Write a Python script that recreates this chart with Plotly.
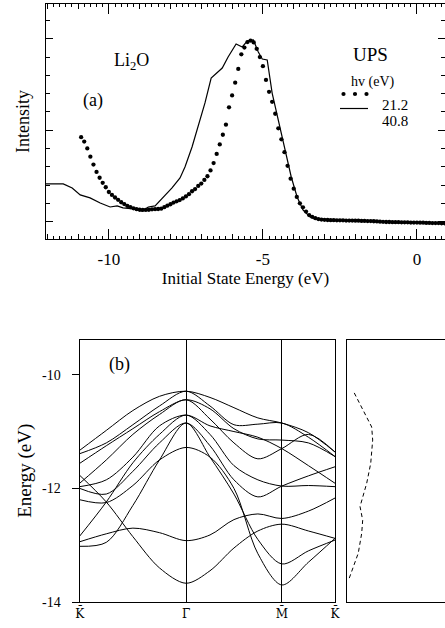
import plotly.graph_objects as go

# ---------------- (a) UPS spectra ----------------
ups_e_212 = [-10.9, -10.8, -10.7, -10.6, -10.5, -10.4, -10.3, -10.2, -10.1, -10.0,
             -9.9, -9.8, -9.7, -9.6, -9.5, -9.4, -9.3, -9.2, -9.1, -9.0,
             -8.9, -8.8, -8.7, -8.6, -8.5, -8.4, -8.3, -8.2, -8.1, -8.0,
             -7.9, -7.8, -7.7, -7.6, -7.5, -7.4, -7.3, -7.2, -7.1, -7.0,
             -6.9, -6.8, -6.7, -6.6, -6.5, -6.4, -6.3, -6.2, -6.1, -6.0,
             -5.9, -5.8, -5.7, -5.6, -5.5, -5.4, -5.3, -5.2, -5.1, -5.0,
             -4.9, -4.8, -4.7, -4.6, -4.5, -4.4, -4.3, -4.2, -4.1, -4.0,
             -3.9, -3.8, -3.7, -3.6, -3.5, -3.4, -3.3, -3.2, -3.1, -3.0,
             -2.9, -2.8, -2.7, -2.6, -2.5, -2.4, -2.3, -2.2, -2.1, -2.0,
             -1.9, -1.8, -1.7, -1.6, -1.5, -1.4, -1.3, -1.2, -1.1, -1.0,
             -0.9, -0.8, -0.7, -0.6, -0.5, -0.4, -0.3, -0.2, -0.1, 0.0,
             0.1, 0.2, 0.3, 0.4, 0.5, 0.6, 0.7, 0.8, 0.9]
ups_i_212 = [4.62, 4.38, 4.00, 3.55, 3.12, 2.72, 2.40, 2.12, 1.88, 1.62,
             1.46, 1.32, 1.19, 1.06, 0.96, 0.86, 0.79, 0.73, 0.68, 0.65,
             0.64, 0.64, 0.65, 0.67, 0.68, 0.69, 0.71, 0.79, 0.87, 0.95,
             1.04, 1.11, 1.18, 1.27, 1.38, 1.50, 1.66, 1.78, 1.95, 2.08,
             2.28, 2.48, 2.80, 3.20, 3.70, 4.22, 4.75, 5.30, 6.25, 6.90,
             7.60, 8.35, 9.15, 9.52, 9.82, 9.90, 9.80, 9.45, 9.00, 8.50,
             7.75, 7.10, 6.55, 5.90, 5.10, 4.50, 3.80, 3.05, 2.35, 1.80,
             1.35, 1.00, 0.78, 0.55, 0.36, 0.26, 0.19, 0.14, 0.11, 0.10,
             0.09, 0.08, 0.08, 0.07, 0.07, 0.07, 0.06, 0.06, 0.06, 0.05,
             0.05, 0.04, 0.04, 0.03, 0.03, 0.02, 0.01, 0.00, -0.01, -0.02,
             -0.02, -0.03, -0.03, -0.03, -0.04, -0.04, -0.04, -0.05, -0.05, -0.05,
             -0.06, -0.06, -0.07, -0.07, -0.08, -0.08, -0.08, -0.09, -0.09]

ups_e_408 = [-12.04, -11.48, -11.19, -10.93, -10.61, -10.28, -9.96, -9.73, -9.54, -9.21,
             -8.92, -8.72, -8.50, -8.24, -7.95, -7.69, -7.53, -7.30, -7.10, -6.88,
             -6.68, -6.49, -6.32, -6.13, -5.87, -5.67, -5.51, -5.31, -5.15, -5.02,
             -4.86, -4.70, -4.50, -4.28, -4.08, -3.89, -3.70, -3.47, -3.14, -2.17,
             -1.09, 0.0, 0.92]
ups_i_408 = [2.06, 2.06, 1.84, 1.46, 1.30, 1.02, 0.80, 0.86, 0.75, 0.69,
             0.58, 0.80, 0.86, 1.30, 1.84, 2.39, 2.99, 4.08, 5.17, 6.49,
             7.85, 8.13, 8.40, 9.00, 9.71, 9.55, 9.87, 9.93, 9.27, 8.89,
             8.84, 7.03, 5.56, 3.92, 2.44, 1.35, 0.64, 0.26, 0.09, 0.04,
             -0.02, -0.04, -0.07]

ups_xtick_vals = [-10, -5, 0]
ups_xtick_text = ["-10", "-5", "0"]
legend_labels = ["21.2", "40.8"]
legend_title = "hv (eV)"

# ---------------- (b) band structure ----------------
k_points = [0.0, 0.25, 0.5, 0.75, 1.0, 1.225, 1.45, 1.675, 1.9, 2.15, 2.4]
k_sym_pos = [0.0, 1.0, 1.9, 2.4]
k_sym_labels = ["K\u0304", "\u0393\u0304", "M\u0304", "K\u0304"]

band_01 = [-11.33, -10.98, -10.63, -10.38, -10.29, -10.40, -10.58, -10.76, -10.85, -11.02, -11.36]
band_02 = [-11.39, -11.20, -10.88, -10.55, -10.29, -10.55, -10.88, -10.87, -10.85, -11.10, -11.44]
band_03 = [-11.56, -11.25, -10.95, -10.65, -10.44, -10.60, -10.95, -11.13, -11.15, -11.20, -11.44]
band_04 = [-11.91, -11.50, -11.05, -10.70, -10.44, -10.78, -11.20, -11.48, -11.30, -11.05, -11.36]
band_05 = [-11.97, -11.85, -11.45, -10.90, -10.71, -10.90, -11.00, -11.10, -11.30, -11.60, -11.91]
band_06 = [-12.84, -12.24, -11.55, -11.05, -10.71, -11.05, -11.60, -11.85, -11.96, -11.95, -11.97]
band_07 = [-12.00, -12.10, -11.70, -11.20, -10.85, -11.25, -11.85, -12.15, -11.96, -11.78, -11.62]
band_08 = [-13.02, -12.95, -12.30, -11.50, -10.85, -11.45, -12.10, -12.90, -13.33, -13.10, -12.91]
band_09 = [-12.20, -12.25, -11.95, -11.50, -11.28, -11.45, -12.00, -13.15, -13.70, -13.30, -12.88]
band_10 = [-12.94, -12.80, -12.70, -12.78, -12.92, -12.82, -12.55, -12.45, -12.53, -12.40, -12.17]
band_11 = [-11.77, -12.24, -12.85, -13.40, -13.67, -13.45, -13.05, -12.75, -12.63, -12.75, -12.88]
bands = [band_01, band_02, band_03, band_04, band_05, band_06,
         band_07, band_08, band_09, band_10, band_11]

band_ytick_vals = [-10, -12, -14]
band_ytick_text = ["-10", "-12", "-14"]

# density of states (right panel)
dos_e = [-10.32, -10.92, -11.15, -11.56, -11.91, -12.32, -12.56, -12.79, -13.14, -13.49, -13.58]
dos_v = [0.074, 0.252, 0.262, 0.242, 0.201, 0.133, 0.160, 0.150, 0.115, 0.048, 0.023]

FONT = "Liberation Serif, Times New Roman, serif"
W, H = 445, 628


def px(x):
    return x / W


def py(y):
    return 1 - y / H


fig = go.Figure()

fig.add_trace(go.Scatter(x=ups_e_212, y=ups_i_212, mode="markers", name=legend_labels[0],
                         marker=dict(color="black", size=4.3), xaxis="x", yaxis="y",
                         showlegend=False))
fig.add_trace(go.Scatter(x=ups_e_408, y=ups_i_408, mode="lines", name=legend_labels[1],
                         line=dict(color="black", width=1.2), xaxis="x", yaxis="y",
                         showlegend=False))
fig.add_trace(go.Scatter(x=[None], y=[None], xaxis="x3", yaxis="y", showlegend=False,
                         hoverinfo="skip"))

for b in bands:
    fig.add_trace(go.Scatter(x=k_points, y=b, mode="lines", showlegend=False,
                             line=dict(color="black", width=1, shape="spline", smoothing=0.9),
                             xaxis="x2", yaxis="y2"))

fig.add_trace(go.Scatter(x=dos_v, y=dos_e, mode="lines", showlegend=False,
                         line=dict(color="black", width=1, dash="4px,3px"),
                         xaxis="x4", yaxis="y3"))

top_dom_x = [px(46), 1.0]
top_dom_y = [py(239), py(4)]
bs_dom_x = [px(79.7), px(335)]
bs_dom_y = [py(602), py(339.5)]
dos_dom_x = [px(347), 1.0]

axis_common = dict(showline=True, linecolor="black", linewidth=1.3, showgrid=False,
                   zeroline=False, tickcolor="black", mirror="ticks")

# hand-made legend keys (layout decoration, paper coordinates)
legend_shapes = []
for cx in (343.5, 355.0, 366.5):
    legend_shapes.append(dict(type="circle", xref="paper", yref="paper",
                              x0=px(cx - 2.1), x1=px(cx + 2.1), y0=py(94 + 2.1), y1=py(94 - 2.1),
                              fillcolor="black", line=dict(width=0)))
legend_shapes.append(dict(type="line", xref="paper", yref="paper",
                          x0=px(340), x1=px(368), y0=py(108.5), y1=py(108.5),
                          line=dict(color="black", width=1.2)))

fig.update_layout(
    autosize=True, margin=dict(l=0, r=0, t=0, b=0, autoexpand=False),
    paper_bgcolor="white", plot_bgcolor="white",
    font=dict(family=FONT, color="black", size=16),
    showlegend=False,
    xaxis=dict(domain=top_dom_x, anchor="y", range=[-12.04, 0.91],
               tickmode="array", tickvals=ups_xtick_vals, ticktext=ups_xtick_text,
               ticks="inside", ticklen=10,
               ticklabelstandoff=4, tickfont=dict(size=17),
               minor=dict(ticks="inside", ticklen=2.5, dtick=0.2, tick0=0, tickcolor="black"),
               title=dict(text="Initial State Energy (eV)", font=dict(size=17), standoff=2),
               **axis_common),
    xaxis3=dict(domain=top_dom_x, anchor="y", overlaying="x", range=[-12.04, 0.91],
                dtick=1, tick0=0, ticks="inside", ticklen=5, showticklabels=False,
                **axis_common),
    yaxis=dict(domain=top_dom_y, anchor="x", range=[-0.95, 11.9],
               dtick=5, tick0=0, ticks="inside", ticklen=7, showticklabels=False,
               minor=dict(ticks="inside", ticklen=4, dtick=1, tick0=0, tickcolor="black"),
               title=dict(text="Intensity", font=dict(size=18), standoff=10),
               **axis_common),
    xaxis2=dict(domain=bs_dom_x, anchor="y2", range=[0, 2.4],
                tickmode="array", tickvals=k_sym_pos, ticktext=k_sym_labels,
                ticks="", tickfont=dict(size=12, family="DejaVu Serif"),
                showgrid=True, gridcolor="black", gridwidth=1,
                showline=True, linecolor="black", linewidth=1.3, mirror=True, zeroline=False),
    yaxis2=dict(domain=bs_dom_y, anchor="x2", range=[-14, -9.38],
                tickmode="array", tickvals=band_ytick_vals, ticktext=band_ytick_text,
                ticks="outside", ticklen=7,
                tickcolor="black", tickfont=dict(size=14), ticklabelstandoff=8,
                title=dict(text="Energy (eV)", font=dict(size=19), standoff=5),
                showline=True, linecolor="black", linewidth=1.3, mirror=True,
                showgrid=False, zeroline=False),
    xaxis4=dict(domain=dos_dom_x, anchor="y3", range=[0, 1], showticklabels=False,
                ticks="", showline=True, linecolor="black", linewidth=1.3, mirror=True,
                showgrid=False, zeroline=False),
    yaxis3=dict(domain=bs_dom_y, anchor="x4", range=[-14, -9.38], showticklabels=False,
                ticks="", showline=True, linecolor="black", linewidth=1.3, mirror=True,
                showgrid=False, zeroline=False),
    shapes=legend_shapes,
    annotations=[
        dict(text="Li<sub>2</sub>O", x=px(112), y=py(48), xref="paper", yref="paper",
             showarrow=False, font=dict(size=18)),
        dict(text="(a)", x=px(81), y=py(88), xref="paper", yref="paper",
             showarrow=False, font=dict(size=18)),
        dict(text="UPS", x=px(390), y=py(42), xref="paper", yref="paper",
             showarrow=False, font=dict(size=19)),
        dict(text=legend_title, x=px(396), y=py(72), xref="paper", yref="paper",
             showarrow=False, font=dict(size=14)),
        dict(text=legend_labels[0], x=px(380), y=py(95), xref="paper", yref="paper",
             xanchor="left", showarrow=False, font=dict(size=15)),
        dict(text=legend_labels[1], x=px(380), y=py(110.5), xref="paper", yref="paper",
             xanchor="left", showarrow=False, font=dict(size=15)),
        dict(text="(b)", x=px(107), y=py(364), xref="paper", yref="paper",
             showarrow=False, font=dict(size=18)),
    ],
)

fig.write_html(
    "out.html",
    default_width="100vw",
    default_height="100vh",
    config={"displayModeBar": False, "responsive": True},
    post_script=("document.documentElement.style.margin='0';"
                 "document.documentElement.style.overflow='hidden';"
                 "document.body.style.margin='0';"
                 "document.body.style.overflow='hidden';"
                 "window.dispatchEvent(new Event('resize'));"),
)
